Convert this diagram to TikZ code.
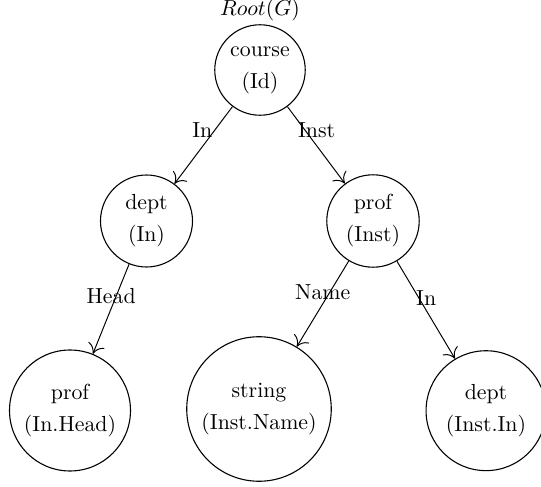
\documentclass[tikz,border=0pt]{standalone}
\usetikzlibrary{arrows.meta}
\begin{document}
\begin{tikzpicture}[x=0.4587pt,y=-0.4587pt,
  state/.style={circle,draw,line width=0.5pt,inner sep=0pt,align=center,font=\fontsize{10}{14.7}\selectfont},
  conn/.style={line width=0.45pt,-{To[length=4.5pt,width=8pt]}},
  lab/.style={inner sep=0pt,font=\fontsize{10}{12}\selectfont}]
\useasboundingbox (0,0) rectangle (541,487);
\node[state,minimum size=41.5pt] (course) at (260,70) {course\\(Id)};
\node (root) at (260,10) {$Root(G)$};
\node[state,minimum size=42.2pt] (dept) at (146.5,221) {dept\\(In)};
\node[state,minimum size=42.4pt] (prof) at (373,221) {prof\\(Inst)};
\node[state,minimum size=55.5pt] (phead) at (70,410.5) {prof\\(In.Head)};
\node[state,minimum size=66.3pt] (str) at (259,409) {string\\(Inst.Name)};
\node[state,minimum size=55pt] (din) at (486,410.7) {dept\\(Inst.In)};
\draw[conn] (course) -- node[lab,pos=0.307,xshift=-5.7pt] {In} (dept);
\draw[conn] (course) -- node[lab,pos=0.307,xshift=5.3pt] {Inst} (prof);
\draw[conn] (dept) -- node[lab,pos=0.357,xshift=-2.3pt] {Head} (phead);
\draw[conn] (prof) -- node[lab,pos=0.366,xshift=-3.2pt] {Name} (str);
\draw[conn] (prof) -- node[lab,pos=0.376,xshift=3.4pt] {In} (din);
\end{tikzpicture}
\end{document}
